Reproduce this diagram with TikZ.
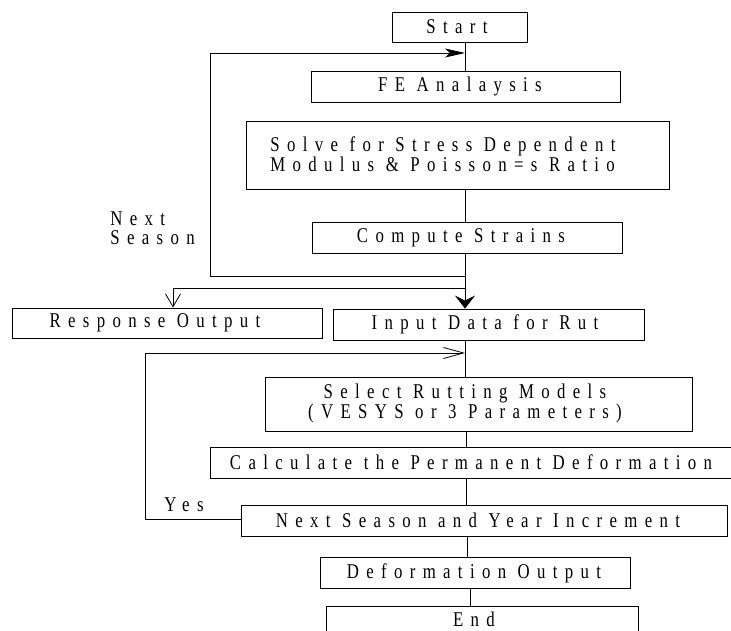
\documentclass[tikz,border=0pt]{standalone}
\usepackage{fontspec}
\setmainfont{Liberation Serif}
\newfontfamily\spaced[LetterSpace=35,FakeStretch=0.8]{Liberation Serif}
\usetikzlibrary{arrows.meta}
\begin{document}
\begin{tikzpicture}[x=1pt,y=-1pt,line width=0.8pt,
  txt/.style={font=\spaced\fontsize{21}{19}\selectfont},
  box/.style={draw,rectangle,inner sep=0pt},
  lbl/.style={inner sep=0pt,txt,align=center},
  hstealth/.style={-{Stealth[length=20pt,width=9pt,inset=5pt]}},
  vstealth/.style={-{Stealth[length=13pt,width=20pt,inset=5pt]}},
  hbarb/.style={-{Straight Barb[length=20pt,width=11pt]}},
  vbarb/.style={-{Straight Barb[length=13pt,width=15pt]}}]
\useasboundingbox (0,0) rectangle (731,631);

% boxes
\node[box,minimum width=135pt,minimum height=30pt] (start) at (459.5,27) {};
\node[box,minimum width=309pt,minimum height=31pt] (fe) at (465.5,86.5) {};
\node[box,minimum width=423pt,minimum height=68pt] (solve) at (457.5,155) {};
\node[box,minimum width=310pt,minimum height=31pt] (compute) at (467,237.5) {};
\node[box,minimum width=310pt,minimum height=30pt] (resp) at (167,323) {};
\node[box,minimum width=311pt,minimum height=31pt] (input) at (488.5,324.5) {};
\node[box,minimum width=427pt,minimum height=54pt] (select) at (478.5,404) {};
\node[box,minimum width=523pt,minimum height=31pt] (calc) at (471.5,462.5) {};
\node[box,minimum width=486pt,minimum height=31pt] (nextinc) at (484,520.5) {};
\node[box,minimum width=310pt,minimum height=31pt] (deform) at (475,572.5) {};
\node[box,minimum width=312pt,minimum height=31pt] (endn) at (482,621.5) {};

% texts
\node[lbl] (startT) at (457,27) {Start};
\node[lbl] (feT) at (460,86.5) {FE Analaysis};
\node[lbl,anchor=west,align=left] (solveT) at (270,154) {Solve for Stress Dependent\\Modulus \& Poisson=s Ratio};
\node[lbl] (computeT) at (461,237.5) {Compute Strains};
\node[lbl] (respT) at (155,323) {Response Output};
\node[lbl] (inputT) at (485,324.5) {Input Data for Rut};
\node[lbl] (selectT) at (465,403) {Select Rutting Models\\(VESYS or 3 Parameters)};
\node[lbl] (calcT) at (471,462.5) {Calculate the Permanent Deformation};
\node[lbl] (nextincT) at (478,520) {Next Season and Year Increment};
\node[lbl] (deformT) at (474,573) {Deformation Output};
\node[lbl] (endT) at (474,619) {End};
\node[lbl,anchor=west,align=left] (nextseason) at (110,228.5) {Next\\Season};
\node[lbl] (yes) at (184,505) {Yes};

% coordinates
\coordinate (j1) at (465,53);
\coordinate (j2) at (465,276);
\coordinate (j3) at (465,288);
\coordinate (la) at (210,276);
\coordinate (lb) at (210,53);
\coordinate (rr) at (173,288);
\coordinate (j4) at (465,353);
\coordinate (lc) at (145,519);
\coordinate (ld) at (145,353);
\coordinate (x66) at (466,0);
\coordinate (x67) at (467,0);
\coordinate (x70) at (470,0);

% connectors
\draw (j1 |- start.south) -- (j1 |- fe.north);
\draw (j1 |- solve.south) -- (j1 |- compute.north);
\draw[hstealth] (j2) -- (la) -- (lb) -- (j1);
\draw[vstealth] (j1 |- compute.south) -- (j1 |- input.north);
\draw[vbarb] (j3) -- (rr) -- (rr |- resp.north);
\draw (j1 |- input.south) -- (j1 |- select.north);
\draw[hbarb] (nextinc.west |- lc) -- (lc) -- (ld) -- (j4);
\draw (x66 |- select.south) -- (x66 |- calc.north);
\draw (x66 |- calc.south) -- (x66 |- nextinc.north);
\draw (x67 |- nextinc.south) -- (x67 |- deform.north);
\draw (x70 |- deform.south) -- (x70 |- endn.north);
\end{tikzpicture}
\end{document}
